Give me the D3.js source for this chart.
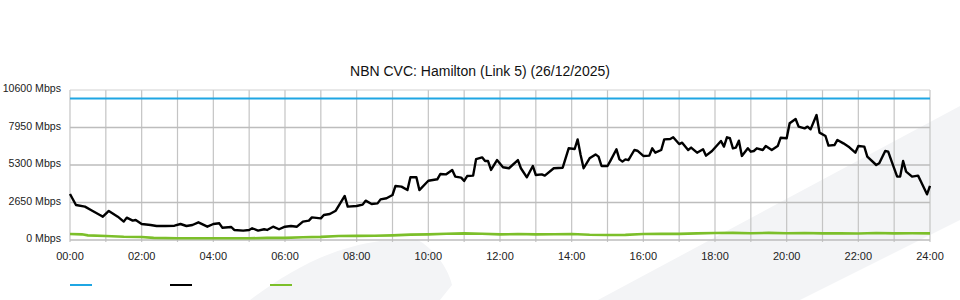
<!DOCTYPE html>
<html>
<head>
<meta charset="utf-8">
<script src="https://cdn.jsdelivr.net/npm/d3@7"></script>
<style>
  body { margin: 0; background: #fff; }
  text { font-family: "Liberation Sans", Arial, sans-serif; }
</style>
</head>
<body>
<div id="graph1"></div>
<script>
var w = 960;
var h = 300;
var margin = { top: 90, right: 30, bottom: 60, left: 70 };

// data (time in minutes since midnight, values in Mbps)
var title = "NBN CVC: Hamilton (Link 5) (26/12/2025)";
var yTicks = [0, 2650, 5300, 7950, 10600];
var xTicks = [0, 120, 240, 360, 480, 600, 720, 840, 960, 1080, 1200, 1320, 1440];
var capacity = 10000;

var trafficTimes = [0, 10, 25, 35, 50, 55, 65, 80, 90, 95, 105, 110, 120, 135, 145, 160, 175, 185, 195, 205,
    215, 230, 240, 250, 255, 270, 275, 290, 300, 305, 315, 325, 330, 340, 350, 360, 370, 380, 390, 400,
    405, 420, 425, 435, 445, 460, 465, 480, 490, 495, 505, 515, 520, 530, 540, 545, 555, 565, 570, 580,
    585, 600, 615, 620, 630, 640, 645, 655, 660, 665, 675, 680, 690, 695, 700, 705, 715, 725, 735, 750,
    755, 765, 775, 780, 790, 795, 810, 825, 835, 845, 850, 855, 860, 870, 880, 885, 890, 900, 905, 915,
    920, 925, 930, 935, 945, 950, 960, 970, 975, 980, 990, 995, 1005, 1010, 1020, 1025, 1035, 1040, 1050, 1060,
    1065, 1075, 1090, 1095, 1100, 1105, 1110, 1115, 1120, 1125, 1135, 1140, 1145, 1150, 1160, 1165, 1175, 1185, 1190, 1200,
    1205, 1215, 1220, 1230, 1235, 1240, 1250, 1255, 1265, 1270, 1280, 1285, 1295, 1305, 1315, 1320, 1330, 1335, 1350, 1355,
    1365, 1370, 1375, 1385, 1390, 1395, 1400, 1410, 1420, 1425, 1435, 1440];
var trafficValues = [3250, 2470, 2360, 2120, 1770, 1650, 2050, 1650, 1300, 1580, 1370, 1410, 1130, 1060, 990, 990, 1010, 1130, 990, 1060,
    1250, 940, 1130, 1180, 870, 920, 710, 660, 710, 830, 660, 760, 710, 940, 760, 940, 990, 940, 1300, 1370,
    1600, 1530, 1770, 1840, 2070, 3110, 2360, 2400, 2500, 2780, 2540, 2590, 2870, 2950, 3180, 3820, 3770, 3530, 4430, 4430,
    3530, 4190, 4290, 4660, 4640, 4950, 4480, 4410, 4170, 4520, 4550, 5720, 5840, 5580, 5580, 4950, 5650, 5140, 5070, 5650,
    5070, 4430, 5230, 4590, 4640, 4550, 5070, 5110, 6480, 6430, 7110, 6010, 5070, 5770, 6050, 5890, 5230, 5230, 5610, 6410,
    5700, 5540, 5700, 5650, 6360, 6310, 5940, 5960, 6480, 6170, 6360, 7110, 7140, 7260, 6780, 6880, 6360, 6530, 6170, 6410,
    5960, 6290, 7000, 6600, 7260, 7190, 6480, 6530, 7020, 5940, 6480, 6240, 6290, 6480, 6360, 6640, 6360, 6640, 7230, 7190,
    8250, 8550, 8010, 7890, 8010, 7820, 8830, 7590, 7350, 6670, 6710, 7070, 6830, 6550, 6170, 6640, 6600, 5890, 5300, 5420,
    6290, 6240, 5650, 4480, 4480, 5580, 4830, 4480, 4550, 4120, 3230, 3820];

var otherTimes = [0, 20, 30, 60, 90, 120, 140, 180, 240, 300, 330, 360, 390, 420, 450, 480, 510, 540, 570, 600,
    630, 660, 690, 720, 750, 780, 810, 840, 870, 900, 930, 960, 990, 1020, 1050, 1080, 1110, 1140, 1170, 1200,
    1230, 1260, 1290, 1320, 1350, 1380, 1410, 1440];
var otherValues = [420, 400, 330, 280, 230, 210, 150, 120, 120, 120, 150, 150, 190, 220, 280, 290, 300, 330, 380, 400,
    440, 470, 440, 400, 420, 400, 410, 420, 370, 350, 360, 420, 430, 430, 470, 490, 500, 480, 500, 480,
    490, 470, 480, 460, 490, 470, 480, 470];

var colors = ["#1fa6e3", "#000000", "#7cbf2a"];

var svg = d3.select("#graph1")
    .append("svg")
    .attr("width", w)
    .attr("height", h);

// faint watermark shapes behind the chart
svg.append("path")
    .attr("d", "M250,300 C290,270 330,248 380,241 L418,240 C435,250 448,268 452,285 L440,300 Z")
    .attr("fill", "#f3f4f6");
svg.append("path")
    .attr("d", "M598,300 L960,106 L960,220 L800,300 Z")
    .attr("fill", "#f3f4f6");

var xScale = d3.scaleLinear()
    .domain([0, 1440])
    .range([margin.left, w - margin.right]);

var yScale = d3.scaleLinear()
    .domain([0, 10600])
    .range([h - margin.bottom, margin.top]);

//Vertical grid, one line per hour
svg.append("g")
    .selectAll("line")
    .data(d3.range(0, 1441, 60))
    .enter()
    .append("line")
    .attr("x1", function (d) { return xScale(d); })
    .attr("x2", function (d) { return xScale(d); })
    .attr("y1", yScale(10600))
    .attr("y2", yScale(0) + 2)
    .attr("stroke", "#c4c4c4")
    .attr("stroke-width", 1.2);

//Horizontal grid
svg.append("g")
    .selectAll("line")
    .data(yTicks)
    .enter()
    .append("line")
    .attr("x1", xScale(0))
    .attr("x2", xScale(1440))
    .attr("y1", function (d) { return yScale(d); })
    .attr("y2", function (d) { return yScale(d); })
    .attr("stroke", function (d) { return d == 10600 ? "#d0d0d0" : "#bdbdbd"; })
    .attr("stroke-width", function (d) { return d == 10600 ? 1 : 1.5; });

//Y labels
svg.append("g")
    .selectAll("text")
    .data(yTicks)
    .enter()
    .append("text")
    .text(function (d) { return d + " Mbps"; })
    .attr("x", margin.left - 9)
    .attr("y", function (d) { return yScale(d) + 2; })
    .attr("text-anchor", "end")
    .attr("font-size", "10.6px")
    .attr("fill", "#222");

//X labels
svg.append("g")
    .selectAll("text")
    .data(xTicks)
    .enter()
    .append("text")
    .text(function (d) { return d3.format("02")(d / 60) + ":00"; })
    .attr("x", function (d) { return xScale(d); })
    .attr("y", 260)
    .attr("text-anchor", "middle")
    .attr("font-size", "11px")
    .attr("fill", "#222");

//Title
svg.append("text")
    .text(title)
    .attr("x", 480)
    .attr("y", 76)
    .attr("text-anchor", "middle")
    .attr("font-size", "14px")
    .attr("fill", "#111");

var line = d3.line()
    .x(function (d) { return xScale(d[0]); })
    .y(function (d) { return yScale(d[1]); });

// capacity
svg.append("path")
    .datum([[0, capacity], [1440, capacity]])
    .attr("d", line)
    .attr("fill", "none")
    .attr("stroke", colors[0])
    .attr("stroke-width", 2.2);

// other traffic
svg.append("path")
    .datum(d3.zip(otherTimes, otherValues))
    .attr("d", line)
    .attr("fill", "none")
    .attr("stroke", colors[2])
    .attr("stroke-width", 2.6);

// main traffic
svg.append("path")
    .datum(d3.zip(trafficTimes, trafficValues))
    .attr("d", line)
    .attr("fill", "none")
    .attr("stroke", colors[1])
    .attr("stroke-width", 2.4)
    .attr("stroke-linejoin", "round");

//Legend swatches
svg.append("g")
    .selectAll("line")
    .data(colors)
    .enter()
    .append("line")
    .attr("x1", function (d, i) { return 70 + i * 100; })
    .attr("x2", function (d, i) { return 92 + i * 100; })
    .attr("y1", 285)
    .attr("y2", 285)
    .attr("stroke", function (d) { return d; })
    .attr("stroke-width", 2);
</script>
</body>
</html>
